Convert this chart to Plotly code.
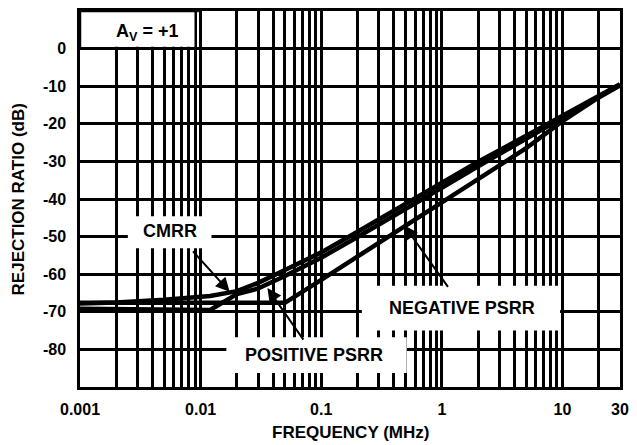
import math
import plotly.graph_objects as go

# ---- data ----
freq_mhz = [0.001, 0.002, 0.005, 0.01, 0.012, 0.02, 0.03, 0.05, 0.1, 0.2, 0.5, 1, 2, 5, 10, 20, 30]
cmrr_db = [-67.8, -67.5, -66.8, -66.1, -65.8, -64.5, -62.3, -58.9, -54.2, -48.7, -41.4, -35.6, -30.1, -23.2, -18.0, -12.6, -9.5]
pos_psrr_db = [-69.2, -69.3, -69.4, -69.5, -69.5, -65.3, -63.8, -60.5, -55.6, -50.1, -42.8, -37.0, -31.3, -24.0, -18.5, -12.9, -9.6]
neg_freq_mhz = [0.001, 0.002, 0.005, 0.01, 0.02, 0.05, 0.1, 0.2, 0.5, 1, 2, 5, 10, 20, 30]
neg_psrr_db = [-67.6, -67.6, -67.6, -67.6, -67.6, -67.6, -61.5, -55.3, -47.0, -40.8, -34.8, -26.5, -19.3, -13.0, -9.8]

x_tick_labels = {0.001: "0.001", 0.01: "0.01", 0.1: "0.1", 1: "1", 10: "10", 30: "30"}
y_ticks = [0, -10, -20, -30, -40, -50, -60, -70, -80]

FONT = "Liberation Sans, Arial, Helvetica, sans-serif"
FS = 16      # tick labels
FS_L = 18    # labels and axis titles

# grid at 1..9 x each decade
grid_vals = []
for dec in [0.001, 0.01, 0.1, 1]:
    for m in range(1, 10):
        grid_vals.append(round(m * dec, 6))
grid_vals += [10, 20, 30]
grid_text = ["<b>%s</b>" % x_tick_labels[v] if v in x_tick_labels else "" for v in grid_vals]

fig = go.Figure()
line_w = 4.5
fig.add_trace(go.Scatter(x=neg_freq_mhz, y=neg_psrr_db, mode="lines",
                         line=dict(color="black", width=line_w), name="NEGATIVE PSRR"))
fig.add_trace(go.Scatter(x=freq_mhz, y=pos_psrr_db, mode="lines",
                         line=dict(color="black", width=line_w), name="POSITIVE PSRR"))
fig.add_trace(go.Scatter(x=freq_mhz, y=cmrr_db, mode="lines",
                         line=dict(color="black", width=line_w), name="CMRR"))

fig.update_layout(
    width=637, height=445,
    margin=dict(l=80, r=15, t=8, b=58),
    paper_bgcolor="white", plot_bgcolor="white",
    showlegend=False,
    font=dict(family=FONT, size=FS, color="black"),
)
fig.update_xaxes(
    type="log", range=[-3, math.log10(30)],
    tickvals=grid_vals, ticktext=grid_text,
    showgrid=True, gridcolor="black", gridwidth=2.5,
    showline=True, linecolor="black", linewidth=2.5, mirror=True,
    ticks="", ticklabelstandoff=6,
    tickfont=dict(family=FONT, size=FS, color="black"),
    zeroline=False,
)
fig.update_yaxes(
    range=[-90, 10],
    tickvals=y_ticks, ticktext=["<b>%d</b>" % v for v in y_ticks],
    showgrid=True, gridcolor="black", gridwidth=2.5,
    showline=True, linecolor="black", linewidth=2.5, mirror=True,
    ticks="", ticklabelstandoff=8,
    tickfont=dict(family=FONT, size=FS, color="black"),
    zeroline=False,
)

# white label boxes (paper coords)
boxes = [
    (0.0, 0.905, 0.212, 1.0),
    (0.0886, 0.369, 0.2435, 0.454),
    (0.271, 0.037, 0.605, 0.132),
    (0.522, 0.150, 0.889, 0.269),
]
for x0, y0, x1, y1 in boxes:
    fig.add_shape(type="rect", xref="paper", yref="paper", x0=x0, y0=y0, x1=x1, y1=y1,
                  fillcolor="white", line=dict(width=0), layer="above")
# redraw the top/left border over the A_V box
fig.add_shape(type="line", xref="paper", yref="paper", x0=0, y0=0.9, x1=0, y1=1,
              line=dict(color="black", width=2.5), layer="above")
fig.add_shape(type="line", xref="paper", yref="paper", x0=0, y0=1, x1=0.22, y1=1,
              line=dict(color="black", width=2.5), layer="above")

labels = [
    ("<b>A<sub>V</sub> = +1</b>", 0.124, 0.942),
    ("<b>CMRR</b>", 0.166, 0.414),
    ("<b>POSITIVE PSRR</b>", 0.434, 0.0844),
    ("<b>NEGATIVE PSRR</b>", 0.708, 0.211),
]
for txt, x, y in labels:
    fig.add_annotation(text=txt, xref="paper", yref="paper", x=x, y=y, showarrow=False,
                       xanchor="center", yanchor="middle",
                       font=dict(family=FONT, size=FS_L, color="black"))

# arrows: tip in data coords (log10 of MHz on x), tail offset in px
arrows = [
    (0.0174, -64.7, -38, -42),
    (0.0358, -63.7, 37, 53),
    (0.486, -47.0, 45, 63),
]
for f, db, ax, ay in arrows:
    fig.add_annotation(text="", x=math.log10(f), y=db, xref="x", yref="y",
                       ax=ax, ay=ay, axref="pixel", ayref="pixel",
                       showarrow=True, arrowhead=2, arrowsize=1.4, arrowwidth=2, arrowcolor="black")

# axis titles
fig.add_annotation(text="<b>FREQUENCY (MHz)</b>", xref="paper", yref="paper", x=0.5, y=-0.121,
                   xanchor="center", yanchor="middle",
                   showarrow=False, font=dict(family=FONT, size=FS_L - 1, color="black"))
fig.add_annotation(text="<b>REJECTION RATIO (dB)</b>", xref="paper", yref="paper", x=-0.114, y=0.5,
                   xanchor="center", yanchor="middle",
                   textangle=-90, showarrow=False,
                   font=dict(family=FONT, size=FS_L - 1, color="black"))

fig.write_html("out.html", config={"displayModeBar": False},
               post_script="document.body.style.margin='0';")
